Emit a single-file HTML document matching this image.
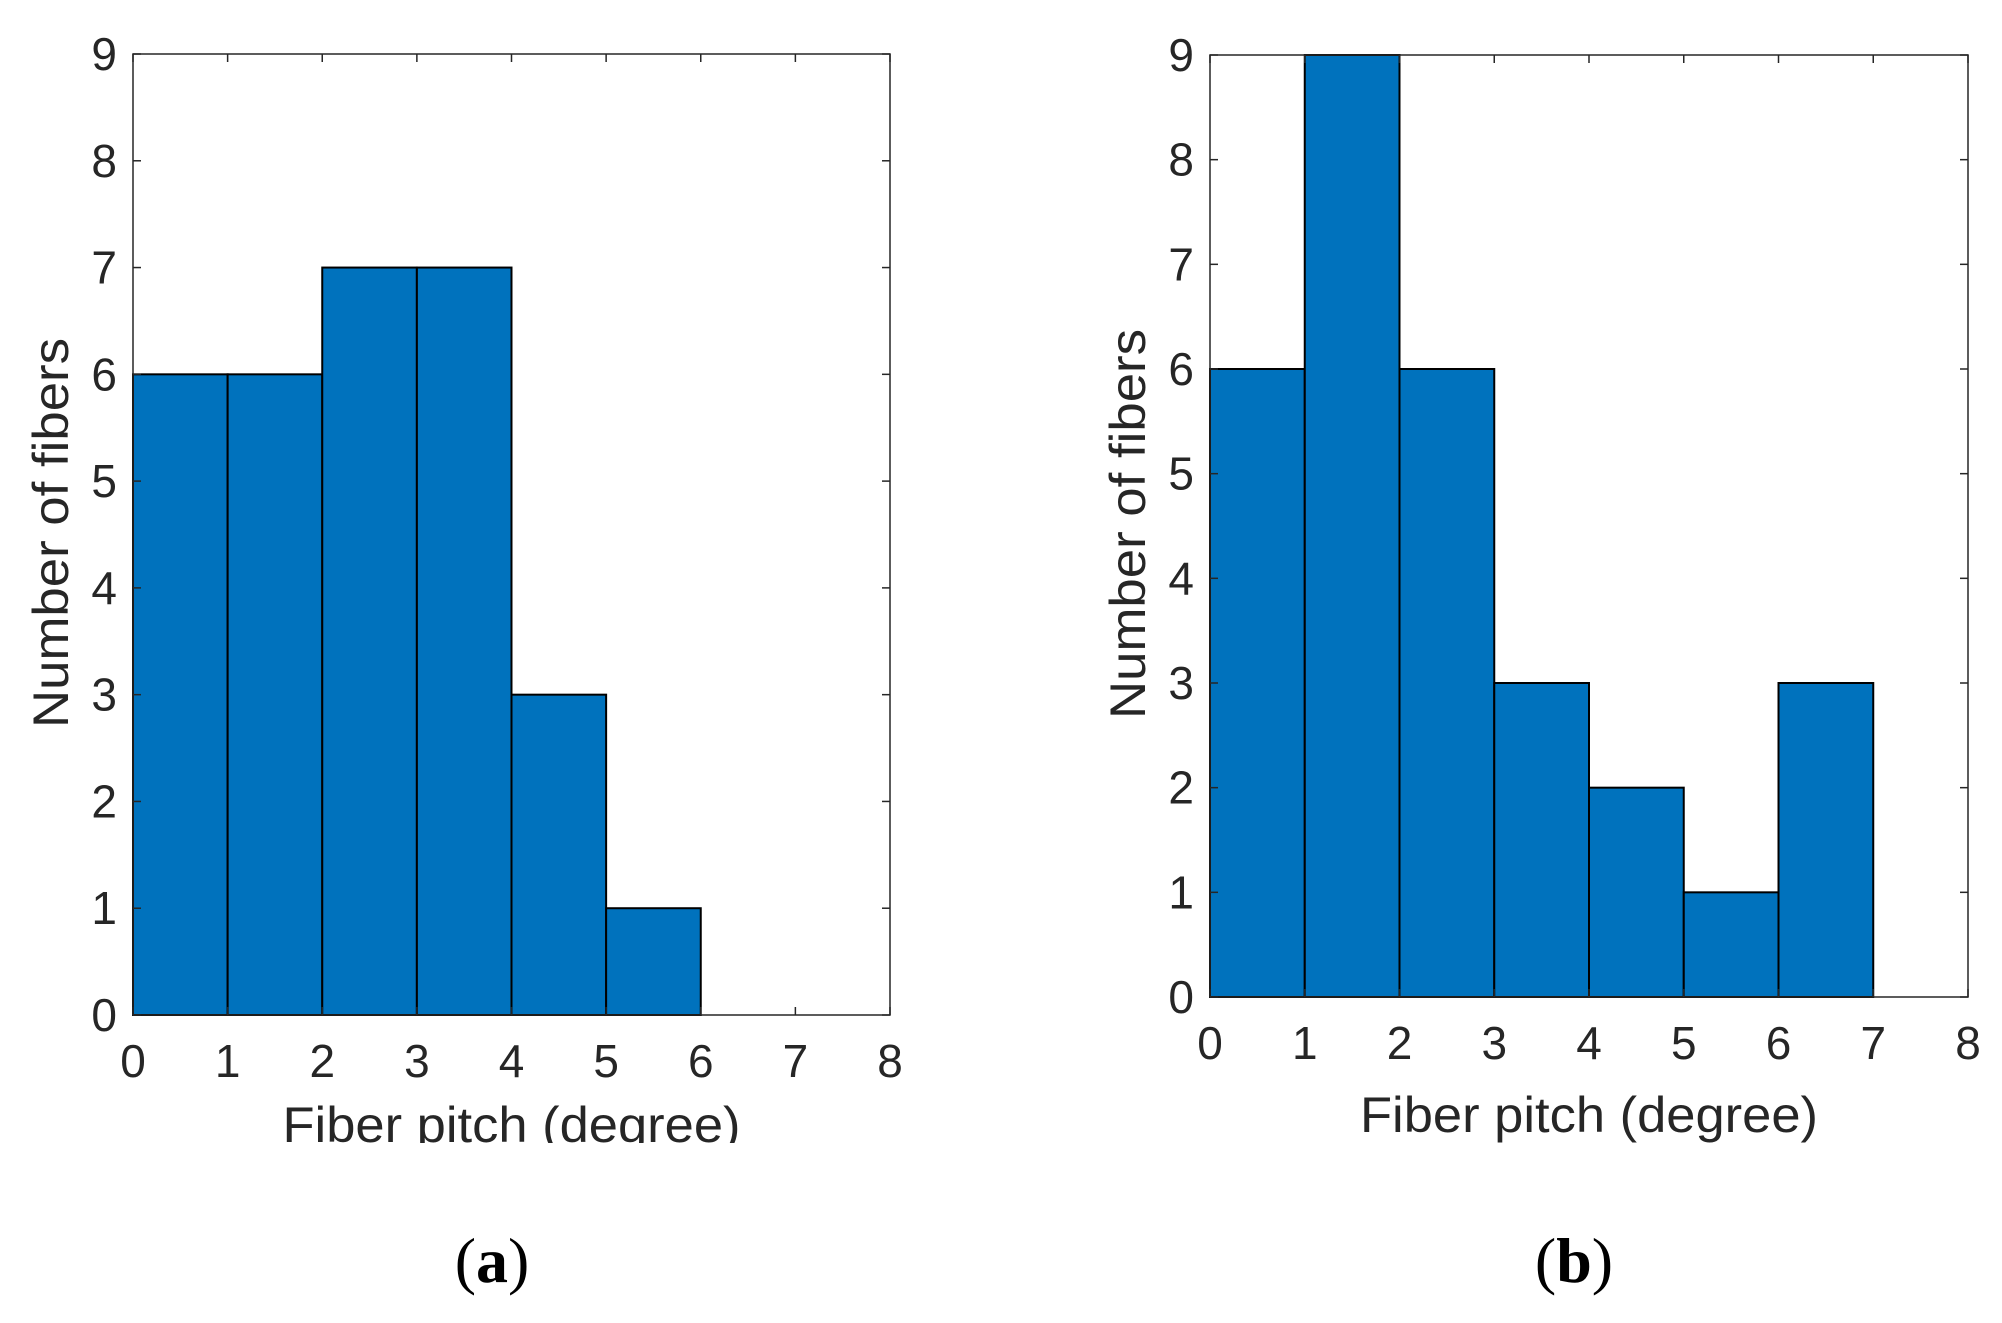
<!DOCTYPE html>
<html><head><meta charset="utf-8"><style>
html,body{margin:0;padding:0;background:#fff;}
svg{display:block;}
text{font-family:"Liberation Sans",sans-serif;fill:#262626;}
</style></head><body>
<svg id="fig" width="2002" height="1323" viewBox="0 0 2002 1323">
<defs><clipPath id="clipA"><rect x="0" y="0" width="1000" height="1143"/></clipPath></defs>
<g id="panelA"></g>
<g id="panelB"></g>
<text x="492" y="1282" text-anchor="middle" style="font-family:'Liberation Serif',serif;font-size:64px;fill:#000">(<tspan font-weight="bold">a</tspan>)</text>
<text x="1574" y="1282" text-anchor="middle" style="font-family:'Liberation Serif',serif;font-size:64px;fill:#000">(<tspan font-weight="bold">b</tspan>)</text>
</svg>
<script>
const binEdges = [0,1,2,3,4,5,6,7];
const countsA = [6,6,7,7,3,1,0];
const countsB = [6,9,6,3,2,1,3];
const xTicks = [0,1,2,3,4,5,6,7,8];
const yTicks = [0,1,2,3,4,5,6,7,8,9];
const NS='http://www.w3.org/2000/svg';
function mk(tag,attrs,parent){const e=document.createElementNS(NS,tag);for(const k in attrs)e.setAttribute(k,attrs[k]);parent.appendChild(e);return e;}
function draw(g,counts,L,R,T,B,xlY,ylX,ylC,clip){
  const sx=v=>L+(v-0)/(8-0)*(R-L);
  const sy=v=>B-(v-0)/(9-0)*(B-T);
  for(let i=0;i<counts.length;i++){
    if(counts[i]<=0)continue;
    const r=mk('rect',{x:sx(binEdges[i]),y:sy(counts[i]),width:sx(binEdges[i]+1)-sx(binEdges[i]),height:sy(0)-sy(counts[i]),fill:'#0072bd',stroke:'#000','stroke-width':2},g);
    
    
  }
  const box=mk('rect',{x:L,y:T,width:R-L,height:B-T,fill:'none',stroke:'#262626','stroke-width':1.5},g);
  
  
  xTicks.forEach(v=>{
    mk('line',{x1:sx(v),x2:sx(v),y1:B,y2:B-8,stroke:'#262626','stroke-width':1.5},g);
    mk('line',{x1:sx(v),x2:sx(v),y1:T,y2:T+8,stroke:'#262626','stroke-width':1.5},g);
    const t=mk('text',{x:sx(v),y:B+62,'text-anchor':'middle','font-size':46},g);
    t.textContent=v;
    
    
  });
  yTicks.forEach(v=>{
    mk('line',{x1:L,x2:L+8,y1:sy(v),y2:sy(v),stroke:'#262626','stroke-width':1.5},g);
    mk('line',{x1:R,x2:R-8,y1:sy(v),y2:sy(v),stroke:'#262626','stroke-width':1.5},g);
    const t=mk('text',{x:L-16,y:sy(v)+16,'text-anchor':'end','font-size':46},g);
    t.textContent=v;
    
    
  });
  const xt=mk('text',{x:(L+R)/2,y:xlY,'text-anchor':'middle','font-size':50,textLength:458,lengthAdjust:'spacingAndGlyphs'},g);
  if(clip)xt.setAttribute('clip-path','url(#clipA)');
  xt.textContent='Fiber pitch (degree)';
  
  
  const yt=mk('text',{x:ylX,y:ylC,'text-anchor':'middle','font-size':50,textLength:390,lengthAdjust:'spacingAndGlyphs',transform:'rotate(-90 '+ylX+' '+ylC+')'},g);
  yt.textContent='Number of fibers';
  
  
}
draw(document.getElementById('panelA'),countsA,133,890,54,1015,1142,68,533,true);
draw(document.getElementById('panelB'),countsB,1210,1968,55,997,1132,1145,524,false);
</script>
</body></html>
